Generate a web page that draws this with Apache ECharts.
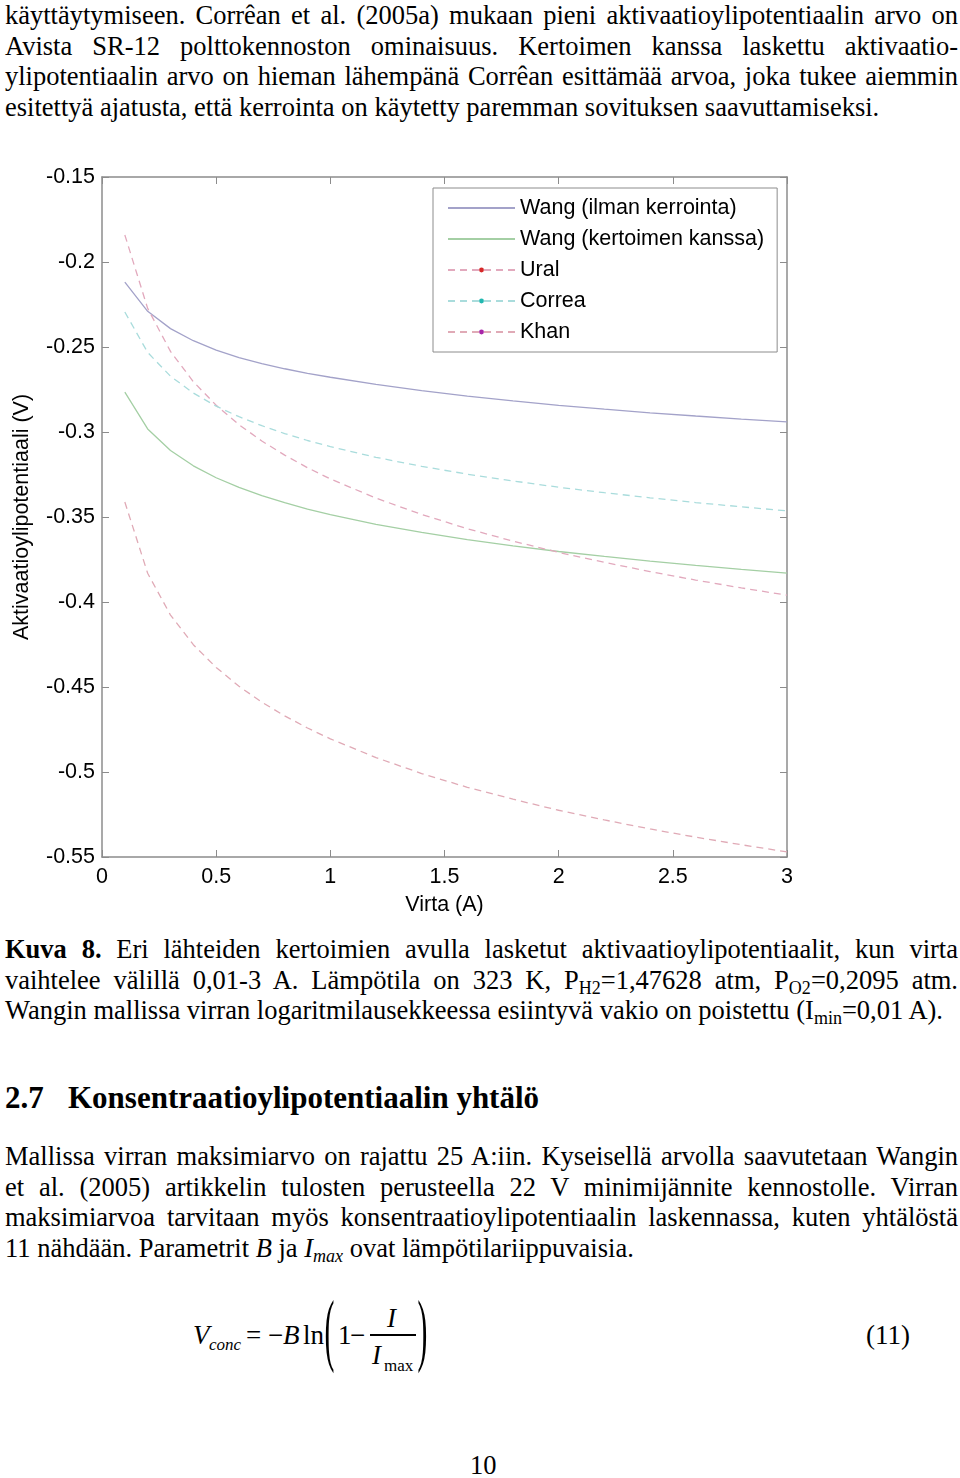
<!DOCTYPE html>
<html><head><meta charset="utf-8">
<script src="https://cdn.jsdelivr.net/npm/echarts@6/dist/echarts.min.js"></script>
<style>
html,body{margin:0;padding:0;background:#fff;}
body{width:960px;height:1478px;position:relative;overflow:hidden;font-family:"Liberation Serif","Times New Roman",serif;font-size:26.5px;color:#000;}
.blk{position:absolute;left:5px;width:953px;line-height:30.5px;}
.blk div{white-space:normal;}
.j{text-align:justify;text-align-last:justify;}
.l{text-align:left;}
sub{font-size:0.68em;vertical-align:-0.28em;line-height:0;}
#chart{position:absolute;left:0;top:140px;width:960px;height:790px;}
.eq span{position:absolute;font-size:27px;line-height:27px;white-space:nowrap;}
.eq .s{font-size:17px;line-height:17px;}
.it{font-style:italic;}
</style></head>
<body>
<div class="blk" style="top:0px">
<div class="j">käyttäytymiseen. Corrêan et al. (2005a) mukaan pieni aktivaatioylipotentiaalin arvo on</div>
<div class="j">Avista SR-12 polttokennoston ominaisuus. Kertoimen kanssa laskettu aktivaatio-</div>
<div class="j">ylipotentiaalin arvo on hieman lähempänä Corrêan esittämää arvoa, joka tukee aiemmin</div>
<div class="l">esitettyä ajatusta, että kerrointa on käytetty paremman sovituksen saavuttamiseksi.</div>
</div>

<div id="chart"></div>

<div class="blk" style="top:934px">
<div class="j"><b>Kuva 8.</b> Eri lähteiden kertoimien avulla lasketut aktivaatioylipotentiaalit, kun virta</div>
<div class="j">vaihtelee välillä 0,01-3 A. Lämpötila on 323 K, P<sub>H2</sub>=1,47628 atm, P<sub>O2</sub>=0,2095 atm.</div>
<div class="l">Wangin mallissa virran logaritmilausekkeessa esiintyvä vakio on poistettu (I<sub>min</sub>=0,01 A).</div>
</div>

<div style="position:absolute;top:1080px;left:5px;font-size:31px;line-height:36px;font-weight:bold;white-space:nowrap;">2.7</div>
<div style="position:absolute;top:1080px;left:68px;font-size:31px;line-height:36px;font-weight:bold;white-space:nowrap;">Konsentraatioylipotentiaalin yhtälö</div>

<div class="blk" style="top:1141px">
<div class="j">Mallissa virran maksimiarvo on rajattu 25 A:iin. Kyseisellä arvolla saavutetaan Wangin</div>
<div class="j">et al. (2005) artikkelin tulosten perusteella 22 V minimijännite kennostolle. Virran</div>
<div class="j">maksimiarvoa tarvitaan myös konsentraatioylipotentiaalin laskennassa, kuten yhtälöstä</div>
<div class="l">11 nähdään. Parametrit <i>B</i> ja <i>I<sub>max</sub></i> ovat lämpötilariippuvaisia.</div>
</div>

<div class="eq">
<span class="it" style="left:193px;top:1322px">V</span>
<span class="s it" style="left:209px;top:1336px">conc</span>
<span style="left:246px;top:1322px">=</span>
<span style="left:268px;top:1322px">−</span>
<span class="it" style="left:283px;top:1322px">B</span>
<span style="left:303px;top:1322px">ln</span>
<span style="left:325px;top:1320px;transform:scale(1.1,3.0);transform-origin:50% 15px;">(</span>
<span style="left:338px;top:1322px">1</span>
<span style="left:350px;top:1322px">−</span>
<span class="it" style="left:387px;top:1305px">I</span>
<div style="position:absolute;left:370px;top:1334px;width:46px;height:1.5px;background:#000"></div>
<span class="it" style="left:372px;top:1342px">I</span>
<span class="s" style="left:384px;top:1357px">max</span>
<span style="left:418px;top:1320px;transform:scale(1.1,3.0);transform-origin:50% 15px;">)</span>
<span style="left:866px;top:1322px">(11)</span>
</div>

<div style="position:absolute;top:1450px;left:470px;line-height:30.5px;">10</div>

<script>
// Current (A)
const xValues = [0.1,0.2,0.3,0.4,0.5,0.6,0.7,0.8,0.9,1.0,1.2,1.4,1.6,1.8,2.0,2.2,2.4,2.6,2.8,3.0];
// Activation overpotential (V)
const wangIlman  = [-0.2118,-0.2290,-0.2392,-0.2463,-0.2518,-0.2562,-0.2598,-0.2628,-0.2655,-0.2678,-0.2720,-0.2757,-0.2789,-0.2817,-0.2843,-0.2866,-0.2887,-0.2906,-0.2924,-0.2941];
const wangKanssa = [-0.2765,-0.2982,-0.3109,-0.3199,-0.3269,-0.3326,-0.3374,-0.3416,-0.3453,-0.3486,-0.3543,-0.3591,-0.3633,-0.3670,-0.3703,-0.3732,-0.3760,-0.3785,-0.3808,-0.3830];
const ural       = [-0.1841,-0.2273,-0.2526,-0.2704,-0.2843,-0.2957,-0.3053,-0.3136,-0.3210,-0.3276,-0.3389,-0.3485,-0.3569,-0.3642,-0.3708,-0.3767,-0.3821,-0.3871,-0.3917,-0.3960];
const correa     = [-0.2294,-0.2532,-0.2672,-0.2771,-0.2848,-0.2910,-0.2963,-0.3009,-0.3050,-0.3086,-0.3149,-0.3202,-0.3248,-0.3288,-0.3325,-0.3357,-0.3387,-0.3415,-0.3440,-0.3464];
const khan       = [-0.3412,-0.3831,-0.4077,-0.4251,-0.4385,-0.4496,-0.4589,-0.4670,-0.4741,-0.4805,-0.4915,-0.5009,-0.5090,-0.5160,-0.5225,-0.5282,-0.5335,-0.5383,-0.5428,-0.5470];
const seriesNames = ['Wang (ilman kerrointa)','Wang (kertoimen kanssa)','Ural','Correa','Khan'];
const xTickLabels = ['0','0.5','1','1.5','2','2.5','3'];
const yTickLabels = ['-0.55','-0.5','-0.45','-0.4','-0.35','-0.3','-0.25','-0.2','-0.15'];

const pair = arr => xValues.map((x, i) => [x, arr[i]]);
const AX = '#8c8c8c';
const FONT = '"Liberation Sans", Arial, sans-serif';
const axisCommon = {
  axisLine: {show: true, onZero: false, lineStyle: {color: AX, width: 1.5}},
  axisTick: {show: true, inside: true, length: 7, lineStyle: {color: AX, width: 1}},
  splitLine: {show: false}
};
const chart = echarts.init(document.getElementById('chart'));
chart.setOption({
  animation: false,
  backgroundColor: 'transparent',
  textStyle: {fontFamily: FONT},
  grid: {left: 102, top: 37, width: 685, height: 680, containLabel: false},
  xAxis: [
    Object.assign({type: 'value', min: 0, max: 3, interval: 0.5, position: 'bottom',
      axisLabel: {color: '#000', fontSize: 21.5, fontFamily: FONT, margin: 9,
        formatter: v => xTickLabels[Math.round(v / 0.5)]},
      name: 'Virta (A)', nameLocation: 'middle', nameGap: 37,
      nameTextStyle: {color: '#000', fontSize: 21.5, fontFamily: FONT}}, axisCommon),
    Object.assign({type: 'value', min: 0, max: 3, interval: 0.5, position: 'top',
      axisLabel: {show: false}}, axisCommon)
  ],
  yAxis: [
    Object.assign({type: 'value', min: -0.55, max: -0.15, interval: 0.05, position: 'left',
      axisLabel: {color: '#000', fontSize: 21.5, fontFamily: FONT, margin: 7,
        formatter: v => yTickLabels[Math.round((v + 0.55) / 0.05)]},
      name: 'Aktivaatioylipotentiaali (V)', nameLocation: 'middle', nameGap: 69, nameRotate: 90,
      nameTextStyle: {color: '#000', fontSize: 21.5, fontFamily: FONT}}, axisCommon),
    Object.assign({type: 'value', min: -0.55, max: -0.15, interval: 0.05, position: 'right',
      axisLabel: {show: false}}, axisCommon)
  ],
  legend: {
    orient: 'vertical', left: 433, top: 48,
    padding: [9, 13, 9, 14], itemWidth: 67, itemHeight: 6, itemGap: 9,
    backgroundColor: '#fff', borderColor: AX, borderWidth: 1, borderRadius: 0,
    textStyle: {color: '#000', fontSize: 21.5, lineHeight: 20, fontFamily: FONT},
    selectedMode: false,
    data: [
      {name: seriesNames[0], itemStyle: {color: 'rgba(0,0,0,0)', borderWidth: 0}},
      {name: seriesNames[1], itemStyle: {color: 'rgba(0,0,0,0)', borderWidth: 0}},
      {name: seriesNames[2]},
      {name: seriesNames[3]},
      {name: seriesNames[4]}
    ]
  },
  series: [
    {name: seriesNames[0], type: 'line', data: pair(wangIlman), symbol: 'none', silent: true,
      itemStyle: {color: '#a3a2c9'}, lineStyle: {color: '#a3a2c9', width: 1.3, type: 'solid'}},
    {name: seriesNames[1], type: 'line', data: pair(wangKanssa), symbol: 'none', silent: true,
      itemStyle: {color: '#a4cfa4'}, lineStyle: {color: '#a4cfa4', width: 1.3, type: 'solid'}},
    {name: seriesNames[2], type: 'line', data: pair(ural), symbol: 'circle', symbolSize: 5, showSymbol: false, silent: true,
      itemStyle: {color: '#d62828'}, lineStyle: {color: '#e2a9bd', width: 1.3, type: [7, 5]}},
    {name: seriesNames[3], type: 'line', data: pair(correa), symbol: 'circle', symbolSize: 5, showSymbol: false, silent: true,
      itemStyle: {color: '#22b8b0'}, lineStyle: {color: '#a9dcdc', width: 1.3, type: [7, 5]}},
    {name: seriesNames[4], type: 'line', data: pair(khan), symbol: 'circle', symbolSize: 5, showSymbol: false, silent: true,
      itemStyle: {color: '#a824a8'}, lineStyle: {color: '#e0aab6', width: 1.3, type: [7, 5]}}
  ]
});
</script>
</body></html>
